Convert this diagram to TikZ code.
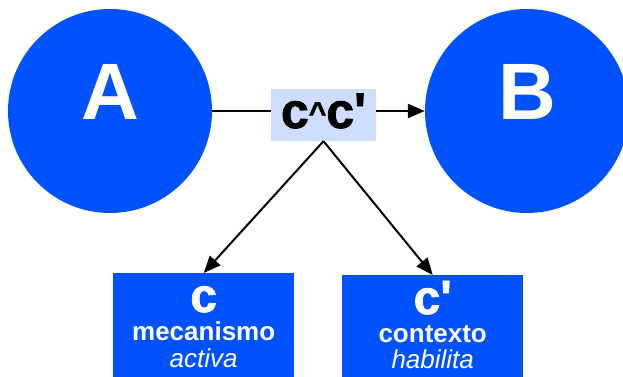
\documentclass[tikz,border=0pt]{standalone}
\usepackage{fontspec}
\usetikzlibrary{arrows.meta}
\newfontfamily\diagfont{Liberation Sans}[BoldFeatures={FakeBold=1.5}]
\newfontfamily\labfont{Liberation Sans}
\definecolor{vivid}{HTML}{0052FF}
\definecolor{pale}{HTML}{CCDDFF}
\tikzset{
  bigdisc/.style={circle, fill=vivid, minimum size=204pt, inner sep=0pt},
  discletter/.style={text=white, anchor=base, inner sep=0pt, font=\labfont\bfseries\fontsize{80}{80}\selectfont},
  factorbox/.style={rectangle, fill=vivid, minimum width=181pt, minimum height=130pt, inner sep=0pt, anchor=north west},
  keyglyph/.style={text=white, anchor=base, inner sep=0pt, font=\diagfont\bfseries\fontsize{48}{48}\selectfont},
  rolename/.style={text=white, anchor=base, inner sep=0pt, font=\labfont\bfseries\fontsize{26}{26}\selectfont},
  roleverb/.style={text=white, anchor=base, inner sep=0pt, font=\labfont\itshape\fontsize{26}{26}\selectfont},
  link/.style={line width=2pt, draw=black},
  linkarrow/.style={link, -{Triangle[length=17pt, width=14pt]}},
}
\begin{document}
\begin{tikzpicture}[x=1pt, y=-1pt]
  \useasboundingbox (0,0) rectangle (623,377);
  \clip (0,0) rectangle (623,377);

  % the two outcome discs
  \node[bigdisc] (A) at (110,111) {};
  \node[bigdisc] (B) at (527,111) {};
  \node[discletter] (Alab) at (110,119) {A};
  \node[discletter] (Blab) at (527,119) {B};

  % conjunction box
  \node[rectangle, fill=pale, minimum width=105pt, minimum height=52pt, inner sep=0pt] (cc) at (323.5,115) {};
  \node[keyglyph, text=black, font=\diagfont\bfseries\fontsize{50}{50}\selectfont] (cclab) at (323.5,128)
    {c\raisebox{5pt}{\fontsize{30}{30}\selectfont\textasciicircum}c'};

  % factor boxes
  \node[factorbox] (c) at (113,273) {};
  \node[factorbox] (cp) at (342,275) {};
  \node[keyglyph] (clab) at (c.north |- 0,312) {c};
  \node[rolename] (cname) at (c.north |- 0,340) {mecanismo};
  \node[roleverb] (cverb) at (c.north |- 0,367) {activa};
  \node[keyglyph] (cplab) at (cp.north |- 0,314) {c'};
  \node[rolename] (cpname) at (cp.north |- 0,342) {contexto};
  \node[roleverb] (cpverb) at (cp.north |- 0,368) {habilita};

  % connectors
  \draw[link] (A.east) -- (A.east -| cc.west);
  \draw[linkarrow] (cc.east |- B.west) -- (B.west);
  \draw[linkarrow] (cc.south) -- (c.north);
  \draw[linkarrow] (cc.south) -- (cp.north);
\end{tikzpicture}
\end{document}
